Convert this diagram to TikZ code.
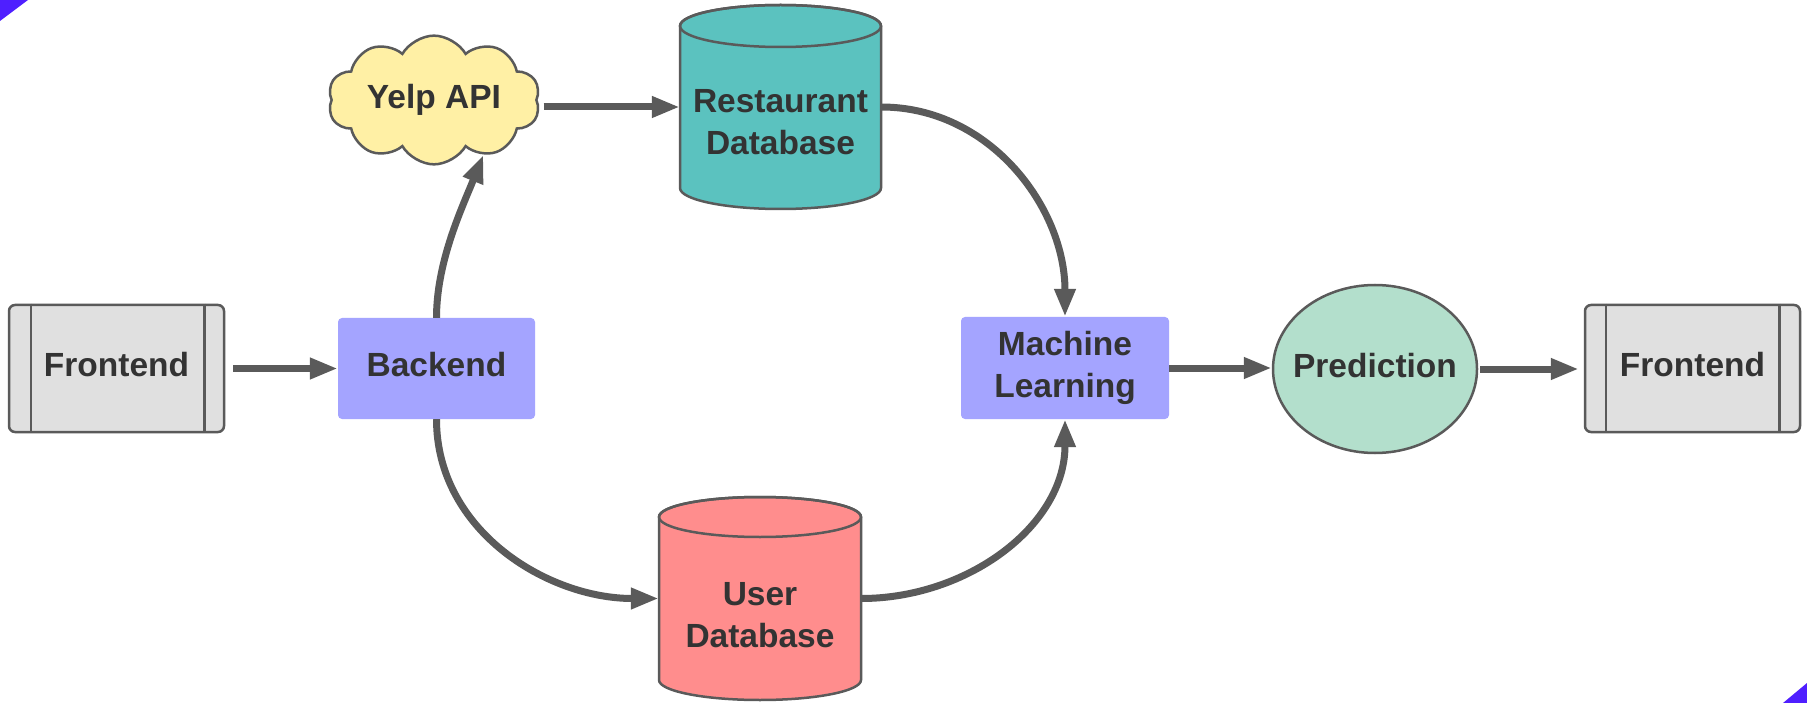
\documentclass[tikz,border=0pt]{standalone}
\usepackage{fontspec}
\setmainfont{Liberation Sans}
\usetikzlibrary{arrows.meta,shapes.geometric,shapes.symbols,calc}

\definecolor{ink}{HTML}{333333}
\definecolor{edge}{HTML}{5A5A5A}
\definecolor{flow}{HTML}{5A5A5A}
\definecolor{feGray}{HTML}{E0E0E0}
\definecolor{lav}{HTML}{A4A4FF}
\definecolor{restTeal}{HTML}{5BC2BF}
\definecolor{userPink}{HTML}{FF8D8D}
\definecolor{yelpYellow}{HTML}{FFF0A5}
\definecolor{predMint}{HTML}{B3DFCC}
\definecolor{cornerViolet}{HTML}{4F1FFF}

% database drum: centre x, top-ellipse y, bottom-ellipse y, x radius, y radius, fill
\newcommand\drumshape[6]{%
  \path[drumline,fill=#6] (#1-#4,#2) -- (#1-#4,#3)
    arc[start angle=180,end angle=360,x radius=#4pt,y radius=#5pt]
    -- (#1+#4,#2)
    arc[start angle=0,end angle=180,x radius=#4pt,y radius=#5pt] -- cycle;
  \draw[drumline] (#1,#2) ellipse[x radius=#4pt,y radius=#5pt];}

\tikzset{
  lbl/.style={font=\bfseries\fontsize{33.5}{42}\selectfont, text=ink, align=center, inner sep=0pt},
  drumline/.style={draw=edge, line width=2.5pt},
  fend/.style={lbl, draw=edge, line width=2.5pt, fill=feGray, rounded corners=6pt,
               minimum width=215pt, minimum height=127pt, text depth=8pt},
  proc/.style={lbl, fill=lav, rounded corners=4pt},
  drumbox/.style={inner sep=0pt, minimum width=201pt, minimum height=204pt},
  flowarrow/.style={draw=flow, line width=7pt, -{Triangle[length=28pt,width=20pt]}},
}

\begin{document}
\begin{tikzpicture}[x=1pt,y=-1pt]
  \useasboundingbox[fill=white] (0,0) rectangle (1807,703);

  % corner accents
  \fill[cornerViolet] (0,0) -- (28,0) -- (0,21) -- cycle;
  \fill[cornerViolet] (1807,683) -- (1807,703) -- (1783,703) -- cycle;

  % frontends
  \node[fend] (fe1) at (116.5,368.5) {Frontend};
  \draw[drumline] ([xshift=23pt]fe1.north west) -- ([xshift=23pt]fe1.south west);
  \draw[drumline] ([xshift=-21pt]fe1.north east) -- ([xshift=-21pt]fe1.south east);
  \node[fend] (fe2) at (1692.5,368.5) {Frontend};
  \draw[drumline] ([xshift=22pt]fe2.north west) -- ([xshift=22pt]fe2.south west);
  \draw[drumline] ([xshift=-22pt]fe2.north east) -- ([xshift=-22pt]fe2.south east);

  % processing blocks
  \node[proc, minimum width=197pt, minimum height=101pt, text depth=8pt] (be) at (436.5,368.5) {Backend};
  \node[proc, minimum width=208pt, minimum height=102pt] (ml) at (1065,368) {Machine\\Learning};

  % external API
  \node[lbl, cloud, cloud puffs=10, cloud puff arc=120, aspect=1.9, draw=edge, line width=2.5pt,
        fill=yelpYellow, minimum width=212pt, minimum height=110pt, text depth=8pt]
        (yelp) at (434,100) {Yelp API};

  % databases
  \drumshape{780.5}{26}{188}{100.5}{21}{restTeal}
  \node[drumbox] (rdb) at (780.5,107) {};
  \node[lbl] (rdbtext) at (780.5,122.5) {Restaurant\\Database};

  \drumshape{760}{517}{680}{101}{20}{userPink}
  \node[drumbox, minimum width=202pt, minimum height=203pt] (udb) at (760,598.5) {};
  \node[lbl] (udbtext) at (760,615) {User\\Database};

  % prediction
  \node[lbl, ellipse, draw=edge, line width=2.5pt, fill=predMint, inner xsep=-26pt,
        text depth=8pt, minimum width=204pt, minimum height=168pt] (pred) at (1375,369) {Prediction};

  % data flow
  \draw[flowarrow, shorten <=8pt] (fe1.east) -- (be.west);
  \draw[flowarrow] (be.north) to[out=90,in=-112,looseness=0.85] (yelp.-48);
  \draw[flowarrow, shorten <=6pt] (yelp.east |- rdb.west) -- (rdb.west);
  \draw[flowarrow] (rdb.east) to[out=0,in=90] (ml.north);
  \draw[flowarrow] (be.south) to[out=-90,in=180] (udb.west);
  \draw[flowarrow] (udb.east) to[out=0,in=-90] (ml.south);
  \draw[flowarrow] (ml.east) -- (ml.east -| pred.west);
  \draw[flowarrow, shorten <=2pt, shorten >=5pt] (pred.east) -- (pred.east -| fe2.west);
\end{tikzpicture}
\end{document}
